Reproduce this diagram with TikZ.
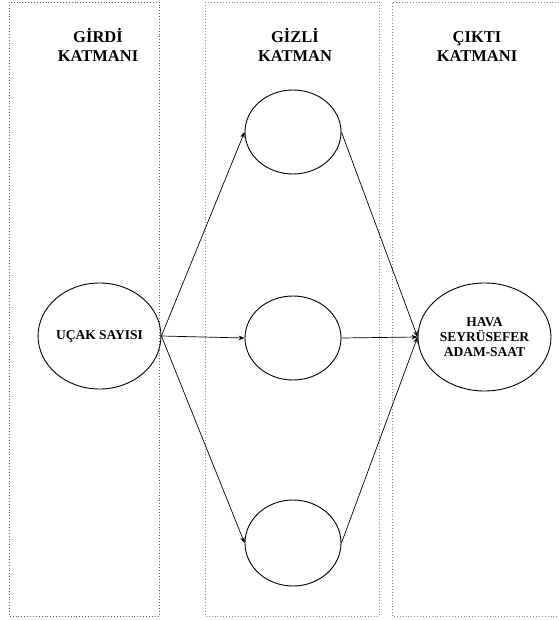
\documentclass[tikz,border=0pt]{standalone}
\usepackage{fontspec}
\setmainfont{Liberation Serif}
\usetikzlibrary{shapes.geometric,arrows.meta}
\definecolor{dotA}{RGB}{95,95,95}
\definecolor{dotB}{RGB}{125,145,140}
\tikzset{
  layerbox/.style={dotted, line width=0.9pt},
  header/.style={align=center, font=\bfseries\fontsize{16.5}{19}\selectfont, inner sep=0pt},
  neuron/.style={draw, ellipse, line width=0.9pt, inner sep=0pt},
  ntext/.style={align=center, font=\bfseries\fontsize{13.5}{15}\selectfont},
  conn/.style={line width=0.7pt, -{Stealth[length=6pt,width=4.5pt]}}
}
\begin{document}
\begin{tikzpicture}[x=1pt,y=-1pt]
\useasboundingbox (0,0) rectangle (558,620);
% layer boxes
\draw[layerbox, dotA] (9,2) rectangle (159,616);
\draw[layerbox, dotB] (205,2) rectangle (379,616);
\draw[layerbox, dotB] (562,2) -- (392,2) -- (392,616) -- (562,616);
% headers
\node[header] (h_in) at (98,45) {\vphantom{İ}GİRDİ\\KATMANI};
\node[header] (h_hid) at (295,45) {\vphantom{İ}GİZLİ\\KATMAN};
\node[header] (h_out) at (477,45) {\vphantom{İ}ÇIKTI\\KATMANI};
% neurons
\node[neuron, minimum width=121pt, minimum height=106pt, ntext] (in) at (99.5,336) {UÇAK SAYISI};
\node[neuron, minimum width=96pt, minimum height=84pt] (n1) at (293,132) {};
\node[neuron, minimum width=96pt, minimum height=84pt] (n2) at (293,338) {};
\node[neuron, minimum width=96pt, minimum height=86pt] (n3) at (293,543) {};
\node[neuron, minimum width=133pt, minimum height=108pt, ntext] (out) at (484.5,337) {HAVA\\SEYRÜSEFER\\ADAM-SAAT};
% connectors
\draw[conn] (in.east) -- (n1.west);
\draw[conn] (in.east) -- (n2.west);
\draw[conn] (in.east) -- (n3.west);
\draw[conn] (n1.east) -- (out.west);
\draw[conn] (n2.east) -- (out.west);
\draw[conn] (n3.east) -- (out.west);
\end{tikzpicture}
\end{document}
